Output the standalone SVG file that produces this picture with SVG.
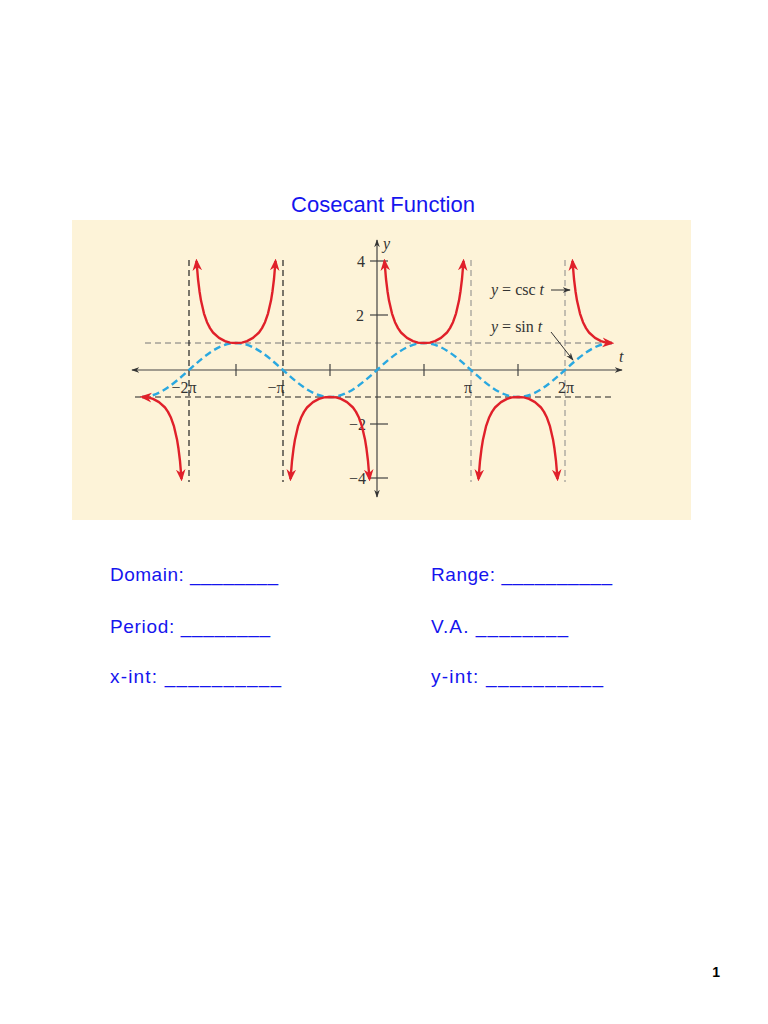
<svg xmlns="http://www.w3.org/2000/svg" width="768" height="1024" viewBox="0 0 768 1024">
<style>
.t{font-family:"Liberation Sans",Arial,sans-serif;fill:#1515ee;font-size:19px}
.title{font-size:22px}
.m{font-family:"Liberation Serif","Times New Roman",serif;fill:#333;font-size:16px}
.i{font-style:italic}
.csc{fill:none;stroke:#e0202a;stroke-width:2.4;stroke-linejoin:round;marker-start:url(#ra);marker-end:url(#ra)}
.ax{stroke:#444;stroke-width:1.2}
</style>
<defs>
<marker id="ra" viewBox="0 0 10 10" refX="8" refY="5" markerWidth="5" markerHeight="5" orient="auto-start-reverse" markerUnits="strokeWidth"><path d="M0,1 L10,5 L0,9 L3,5 Z" fill="#e0202a"/></marker>
<marker id="ka" viewBox="0 0 10 10" refX="9" refY="5" markerWidth="8" markerHeight="8" orient="auto-start-reverse" markerUnits="userSpaceOnUse"><path d="M0,1.5 L10,5 L0,8.5 L3,5 Z" fill="#333"/></marker>
<path id="br" d="M7.5,-109 L9,-91 L10.5,-78.8 L12,-69.4 L15,-56.4 L18,-47.8 L21,-41.9 L24,-37.5 L30,-32.1 L36,-28.9 L41,-27.4 L47,-27 L53,-27.4 L58,-28.9 L64,-32.1 L70,-37.5 L73,-41.9 L76,-47.8 L79,-56.4 L82,-69.4 L83.5,-78.8 L85,-91 L86.5,-109"/>
</defs>
<rect width="768" height="1024" fill="#fff"/>
<text class="t title" x="291" y="212" textLength="184">Cosecant Function</text>
<rect x="72" y="220" width="619" height="300" fill="#fdf3d8"/>
<g id="grid" fill="none">
<line x1="145" y1="343" x2="615" y2="343" stroke="#777" stroke-width="1" stroke-dasharray="6,4"/>
<line x1="135" y1="397" x2="615" y2="397" stroke="#222" stroke-width="1.2" stroke-dasharray="6,4"/>
<line x1="189" y1="260" x2="189" y2="482" stroke="#222" stroke-width="1.2" stroke-dasharray="6,4"/>
<line x1="283" y1="260" x2="283" y2="482" stroke="#222" stroke-width="1.2" stroke-dasharray="6,4"/>
<line x1="471" y1="260" x2="471" y2="482" stroke="#888" stroke-width="1" stroke-dasharray="6,4"/>
<line x1="565" y1="260" x2="565" y2="482" stroke="#888" stroke-width="1" stroke-dasharray="6,4"/>
</g>
<g id="axes">
<line class="ax" x1="132" y1="370" x2="622" y2="370" marker-start="url(#ka)" marker-end="url(#ka)"/>
<line class="ax" x1="377" y1="497" x2="377" y2="240" marker-start="url(#ka)" marker-end="url(#ka)"/>
<g class="ax"><line x1="236" y1="364" x2="236" y2="376"/><line x1="330" y1="364" x2="330" y2="376"/><line x1="424" y1="364" x2="424" y2="376"/><line x1="518" y1="364" x2="518" y2="376"/>
<line x1="370" y1="261" x2="388" y2="261"/><line x1="370" y1="315" x2="388" y2="315"/><line x1="370" y1="424" x2="388" y2="424"/><line x1="370" y1="478" x2="388" y2="478"/></g>
<text class="m" x="365" y="267" text-anchor="end">4</text>
<text class="m" x="364" y="321" text-anchor="end">2</text>
<text class="m" x="366" y="430" text-anchor="end">−2</text>
<text class="m" x="366" y="484" text-anchor="end">−4</text>
<text class="m i" x="383" y="249">y</text>
<text class="m i" x="619" y="362">t</text>
<text class="m" x="184" y="393" text-anchor="middle">−2π</text>
<text class="m" x="276" y="393" text-anchor="middle">−π</text>
<text class="m" x="468" y="393" text-anchor="middle">π</text>
<text class="m" x="566" y="393" text-anchor="middle">2π</text>
</g>
<g id="sin">
<path d="M142,397 c17,0 31.8,-13.2 47.25,-27 c15.4,-13.8 30.2,-27 47.25,-27 c17,0 31.8,13.2 47.25,27 c15.4,13.8 30.2,27 47.25,27 c17,0 31.8,-13.2 47.25,-27 c15.4,-13.8 30.2,-27 47.25,-27 c17,0 31.8,13.2 47.25,27 c15.4,13.8 30.2,27 47.25,27 c17,0 31.8,-13.2 47.25,-27 c15.4,-13.8 30.2,-27 47.25,-27" transform="translate(142,0) scale(0.9946,1) translate(-142,0)" fill="none" stroke="#2aa8e0" stroke-width="2.4" stroke-dasharray="7,4"/>
</g>
<g id="csc">
<use href="#br" class="csc" transform="translate(189,370)"/>
<use href="#br" class="csc" transform="translate(377,370)"/>
<use href="#br" class="csc" transform="translate(283,370) scale(1,-1)"/>
<use href="#br" class="csc" transform="translate(471,370) scale(1,-1)"/>
<path class="csc" d="M142,397 L148,397.4 L153,398.9 L159,402.1 L165,407.5 L168,411.9 L171,417.8 L174,426.4 L177,439.4 L178.5,448.8 L180,461 L181.5,479"/>
<path class="csc" d="M572.5,261 L574,279 L575.5,291.2 L577,300.6 L580,313.6 L583,322.2 L586,328.1 L589,332.5 L595,337.9 L601,341.1 L606,342.6 L612,343"/>
</g>
<g id="labels">
<text class="m" x="491" y="295"><tspan class="i">y</tspan> = csc <tspan class="i">t</tspan></text>
<line x1="551" y1="290" x2="570" y2="290" stroke="#333" stroke-width="1" marker-end="url(#ka)"/>
<text class="m" x="491" y="332"><tspan class="i">y</tspan> = sin <tspan class="i">t</tspan></text>
<line x1="551" y1="332" x2="573" y2="360" stroke="#333" stroke-width="1" marker-end="url(#ka)"/>
</g>
<g id="questions" class="t">
<text x="110" y="581" textLength="168">Domain: ________</text>
<text x="431" y="581" textLength="181">Range: __________</text>
<text x="110" y="633" textLength="160">Period: ________</text>
<text x="431" y="633" textLength="137">V.A. ________</text>
<text x="110" y="683" textLength="171">x-int: __________</text>
<text x="431" y="683" textLength="172">y-int: __________</text>
</g>
<text x="720" y="977" font-family="Liberation Sans,Arial,sans-serif" font-size="14" font-weight="bold" fill="#000" text-anchor="end">1</text>
</svg>
